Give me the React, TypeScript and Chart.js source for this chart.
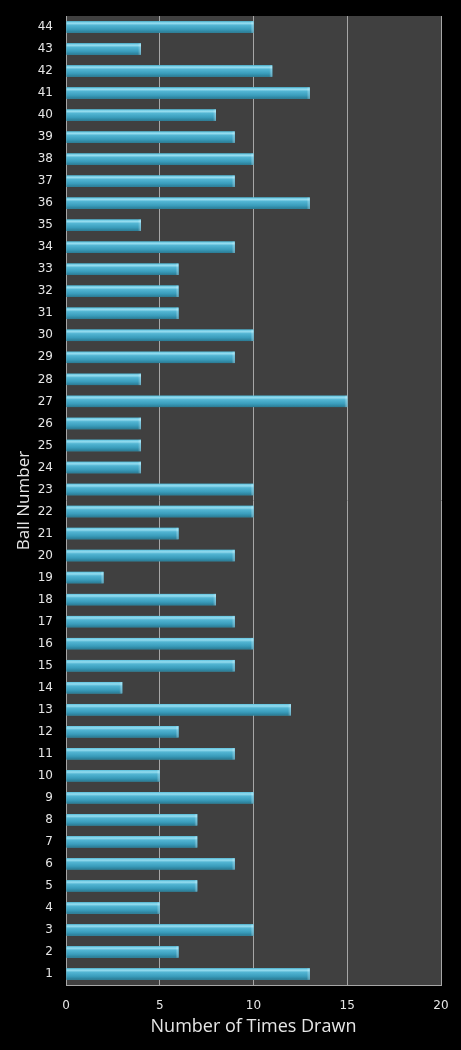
import React, { useEffect, useRef } from "react";
import { Chart, registerables } from "chart.js";

Chart.register(...registerables);

const ballNumbers: string[] = Array.from({ length: 44 }, (_, i) => String(i + 1));
const timesDrawn: number[] = [
  13, 6, 10, 5, 7, 9, 7, 7, 10, 5,
  9, 6, 12, 3, 9, 10, 9, 8, 2, 9,
  6, 10, 10, 4, 4, 4, 15, 4, 9, 10,
  6, 6, 6, 9, 4, 13, 9, 10, 9, 8,
  13, 11, 4, 10,
];
const xTicks: number[] = [0, 5, 10, 15, 20];

const bgPlugin = {
  id: "bgPlugin",
  beforeDraw(chart: any) {
    const { ctx, chartArea } = chart;
    ctx.save();
    ctx.fillStyle = "#000000";
    ctx.fillRect(0, 0, chart.width, chart.height);
    ctx.fillStyle = "#404040";
    ctx.fillRect(chartArea.left, chartArea.top, chartArea.right - chartArea.left, chartArea.bottom - chartArea.top);
    ctx.restore();
  },
};

const barShadePlugin = {
  id: "barShade",
  afterDatasetsDraw(chart: any) {
    const { ctx } = chart;
    const meta = chart.getDatasetMeta(0);
    ctx.save();
    meta.data.forEach((el: any) => {
      const p = el.getProps(["x", "y", "base", "height"], true);
      const left = Math.min(p.base, p.x);
      const right = Math.max(p.base, p.x);
      const top = p.y - p.height / 2;
      const h = p.height;
      const g = ctx.createLinearGradient(0, top, 0, top + h);
      g.addColorStop(0, "#5fc3df");
      g.addColorStop(0.18, "#95dcef");
      g.addColorStop(0.35, "#52b5d3");
      g.addColorStop(0.7, "#3a9dbc");
      g.addColorStop(1, "#2a7a93");
      ctx.fillStyle = g;
      ctx.fillRect(left, top, right - left, h);
      const bw = Math.min(3, right - left);
      const g2 = ctx.createLinearGradient(right - bw, 0, right, 0);
      g2.addColorStop(0, "rgba(255,255,255,0)");
      g2.addColorStop(1, "rgba(200,240,255,0.45)");
      ctx.fillStyle = g2;
      ctx.fillRect(right - bw, top, bw, h);
    });
    ctx.restore();
  },
};

export default function App() {
  const ref = useRef<HTMLCanvasElement | null>(null);
  useEffect(() => {
    document.body.style.margin = "0";
    document.body.style.background = "#000";
    if (!ref.current) return;
    const chart = new Chart(ref.current, {
      type: "bar",
      data: {
        labels: ballNumbers,
        datasets: [
          {
            data: timesDrawn,
            backgroundColor: "#3ba3c0",
            borderWidth: 0,
            barPercentage: 0.52,
            categoryPercentage: 1,
          },
        ],
      },
      options: {
        indexAxis: "y",
        animation: false,
        responsive: false,
        maintainAspectRatio: false,
        layout: { padding: { top: 16, right: 20, bottom: 12, left: 14 } },
        plugins: { legend: { display: false }, tooltip: { enabled: false } },
        scales: {
          x: {
            min: 0,
            max: 20,
            afterBuildTicks(axis: any) {
              axis.ticks = xTicks.map((v) => ({ value: v }));
            },
            afterFit(axis: any) {
              axis.height = 53;
              axis.paddingLeft = 0;
              axis.paddingRight = 0;
            },
            grid: { color: "#a6a6a6", lineWidth: 1, drawTicks: false },
            border: { display: true, color: "#a6a6a6" },
            ticks: {
              color: "#e6e6e6",
              font: { family: "DejaVu Sans", size: 12 },
              padding: 14,
            },
            title: {
              display: true,
              text: "Number of Times Drawn",
              color: "#e6e6e6",
              font: { family: "Open Sans", size: 18 },
              padding: { top: 0, bottom: 0 },
            },
          },
          y: {
            reverse: true,
            afterFit(axis: any) {
              axis.width = 52;
              axis.paddingTop = 0;
              axis.paddingBottom = 0;
            },
            grid: { display: false, drawTicks: false },
            border: { display: false },
            ticks: {
              color: "#e6e6e6",
              font: { family: "DejaVu Sans", size: 12 },
              padding: 13,
              autoSkip: false,
            },
            title: {
              display: true,
              text: "Ball Number",
              color: "#e6e6e6",
              font: { family: "Open Sans", size: 17 },
              padding: { top: 0, bottom: 0 },
            },
          },
        },
      },
      plugins: [bgPlugin, barShadePlugin],
    });
    return () => chart.destroy();
  }, []);
  return (
    <div style={{ width: 461, height: 1050, background: "#000" }}>
      <canvas ref={ref} width={461} height={1050} style={{ display: "block" }} />
    </div>
  );
}
